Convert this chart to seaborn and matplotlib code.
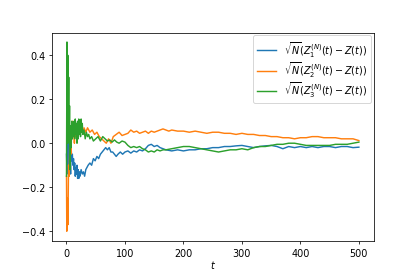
import numpy as np
import pandas as pd
import matplotlib
matplotlib.use('Agg')
import matplotlib.pyplot as plt
import seaborn as sns

# values
t1 = [0, 1, 2, 3, 4, 5, 6, 7, 8, 9, 10, 11, 12, 13, 14, 15, 16, 17, 18, 19, 20, 21, 22, 23, 25, 27, 29, 31, 33, 35, 37,
      40, 43, 46, 49, 52, 55, 58, 61, 64, 67, 70, 73, 76, 79, 82, 85, 88, 92, 96, 100, 105, 110, 115, 120, 125, 130,
      135, 140, 145, 150, 155, 160, 165, 170, 180, 190, 200, 210, 220, 230, 240, 250, 260, 270, 280, 290, 300, 310,
      320, 330, 340, 350, 360, 370, 380, 390, 400, 410, 420, 430, 440, 450, 460, 470, 480, 490, 500]
z1 = [-0.05, -0.14, 0.08, -0.1, 0.1, -0.12, -0.05, -0.14, -0.02, -0.08, -0.05, -0.1, -0.07, -0.12, -0.09, -0.15,
      -0.11, -0.14, -0.1, -0.16, -0.12, -0.16, -0.13, -0.15, -0.12, -0.14, -0.13, -0.15, -0.12, -0.11, -0.1,
      -0.09, -0.1, -0.07, -0.08, -0.06, -0.07, -0.05, -0.04, -0.03, -0.02, -0.03, -0.02, -0.04, -0.04, -0.05, -0.06,
      -0.05, -0.04, -0.05, -0.04, -0.035, -0.045, -0.035, -0.04, -0.03, -0.035, -0.025, -0.01, -0.005, -0.015,
      -0.01, -0.02, -0.025, -0.03, -0.035, -0.03, -0.035, -0.03, -0.03, -0.025, -0.025, -0.02, -0.02, -0.015,
      -0.015, -0.012, -0.01, -0.015, -0.02, -0.015, -0.012, -0.01, -0.015, -0.025, -0.015, -0.02, -0.015, -0.02,
      -0.015, -0.02, -0.015, -0.015, -0.02, -0.015, -0.015, -0.02, -0.018]

t2 = [0, 0.5, 1.5, 2.5, 3.5, 4.5, 5.5, 6.5, 7.5, 8.5, 9.5, 10.5, 11.5, 12.5, 13.5, 14.5, 16, 18, 20, 22, 24, 26, 28,
      30, 33, 36, 40, 44, 48, 52, 56, 60, 64, 68, 72, 76, 80, 85, 90, 95, 100, 105, 110, 115, 120, 125, 130, 135,
      140, 145, 150, 155, 160, 165, 170, 175, 180, 190, 200, 210, 220, 230, 240, 250, 260, 270, 280, 290, 300, 310,
      320, 330, 340, 350, 360, 370, 380, 390, 400, 410, 420, 430, 440, 450, 460, 470, 480, 490, 500]
z2 = [-0.15, -0.4, -0.25, -0.37, -0.1, -0.15, 0.0, 0.05, -0.05, 0.08, 0.02, 0.1, 0.03, 0.09, 0.0, 0.07, 0.03, 0.08,
      0.04, 0.09, 0.05, 0.08, 0.04, 0.07, 0.05, 0.07, 0.05, 0.06, 0.04, 0.05, 0.03, 0.02, 0.01, 0.0, 0.02, 0.0,
      0.03, 0.04, 0.05, 0.035, 0.04, 0.045, 0.06, 0.05, 0.055, 0.045, 0.05, 0.055, 0.045, 0.055, 0.05, 0.055,
      0.06, 0.065, 0.06, 0.055, 0.06, 0.055, 0.055, 0.05, 0.055, 0.05, 0.045, 0.05, 0.05, 0.045, 0.045, 0.04,
      0.045, 0.04, 0.04, 0.035, 0.035, 0.03, 0.03, 0.025, 0.025, 0.02, 0.025, 0.025, 0.03, 0.03, 0.025, 0.025,
      0.025, 0.02, 0.02, 0.02, 0.012]

t3 = [0, 0.8, 1.5, 2.2, 3, 3.8, 4.5, 5.2, 6, 7, 8, 9, 10, 11, 12, 13, 14, 15, 16, 17, 18, 19, 20, 21, 22, 23, 24, 25,
      26, 27, 28, 30, 32, 34, 36, 38, 40, 43, 46, 50, 54, 58, 62, 66, 70, 74, 78, 82, 86, 90, 95, 100, 105, 110,
      115, 120, 125, 130, 135, 140, 145, 150, 155, 160, 165, 170, 180, 190, 200, 210, 220, 230, 240, 250, 260, 270,
      280, 290, 300, 310, 320, 330, 340, 350, 360, 370, 380, 390, 400, 410, 420, 430, 440, 450, 460, 470, 480, 490,
      500]
z3 = [-0.15, 0.46, 0.0, 0.4, 0.05, 0.3, 0.0, 0.17, -0.12, 0.08, -0.02, 0.1, 0.02, 0.08, 0.03, 0.1, 0.02, 0.11, 0.04,
      0.09, 0.0, 0.1, 0.02, 0.11, 0.04, 0.1, 0.03, 0.11, 0.05, 0.09, 0.04, 0.06, 0.02, 0.05, 0.03, 0.04, 0.02, 0.03,
      0.01, 0.02, 0.03, 0.01, 0.03, 0.02, 0.01, 0.015, 0.005, 0.015, 0.005, 0.0, 0.01, 0.005, -0.01, -0.02, -0.015,
      -0.02, -0.015, -0.025, -0.03, -0.04, -0.035, -0.04, -0.03, -0.035, -0.03, -0.03, -0.025, -0.02, -0.015,
      -0.015, -0.02, -0.025, -0.03, -0.035, -0.04, -0.035, -0.03, -0.03, -0.025, -0.03, -0.02, -0.015, -0.015,
      -0.01, -0.005, -0.005, 0.0, 0.0, -0.005, -0.01, -0.01, -0.01, -0.01, -0.01, -0.005, -0.005, -0.005, 0.0,
      0.005]

labels = [r'$\sqrt{N}(Z_1^{(N)}(t)-Z(t))$',
          r'$\sqrt{N}(Z_2^{(N)}(t)-Z(t))$',
          r'$\sqrt{N}(Z_3^{(N)}(t)-Z(t))$']

df = pd.concat([
    pd.DataFrame({'t': t1, 'z': z1, 'series': labels[0]}),
    pd.DataFrame({'t': t2, 'z': z2, 'series': labels[1]}),
    pd.DataFrame({'t': t3, 'z': z3, 'series': labels[2]}),
])

fig, ax = plt.subplots(figsize=(6, 4), dpi=415 / 6)
fig.subplots_adjust(left=0.125, right=0.9, top=0.88, bottom=0.126)
sns.lineplot(data=df, x='t', y='z', hue='series', palette='tab10',
             estimator=None, sort=False, ax=ax)
ax.set_ylim(-0.445, 0.503)
ax.set_xlabel('$t$', labelpad=1)
ax.set_ylabel('')
ax.legend(loc='upper right', labelspacing=0.05, borderaxespad=0.3)

plt.savefig('out.png')
